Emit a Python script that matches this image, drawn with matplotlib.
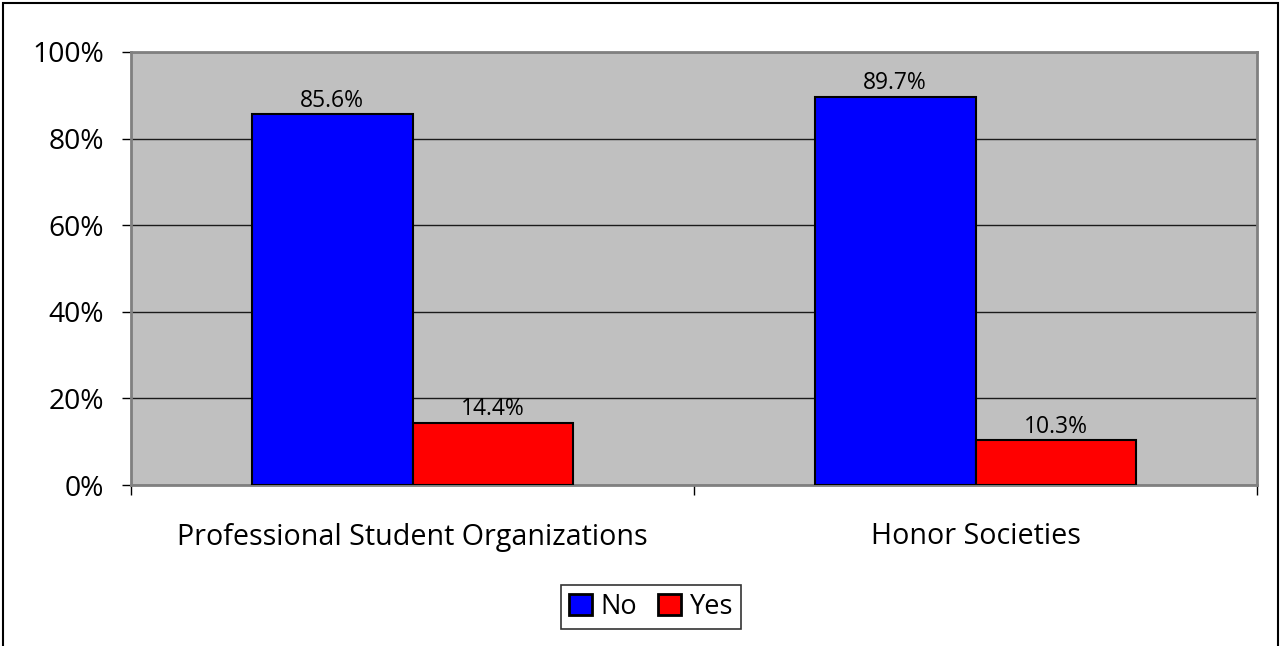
import matplotlib
matplotlib.use("Agg")
import matplotlib.pyplot as plt
from matplotlib.patches import Rectangle, Patch
import numpy as np

categories = ["Professional Student Organizations", "Honor Societies"]
series_names = ["No", "Yes"]
no_values = [85.6, 89.7]
yes_values = [14.4, 10.3]
y_ticks = [0, 20, 40, 60, 80, 100]
y_tick_labels = ["0%", "20%", "40%", "60%", "80%", "100%"]

plt.rcParams['font.family'] = ['Open Sans', 'DejaVu Sans']

fig = plt.figure(figsize=(12.8, 6.46), dpi=100)
ax = fig.add_axes([131/1280, 161/646, (1257-131)/1280, (485-52)/646])
ax.set_facecolor('#C0C0C0')

x = np.arange(len(categories))
w = 1/3.5
b1 = ax.bar(x - w/2, no_values, w, color='#0000FF', edgecolor='black', linewidth=1.5, zorder=3, label=series_names[0])
b2 = ax.bar(x + w/2, yes_values, w, color='#FF0000', edgecolor='black', linewidth=1.5, zorder=3, label=series_names[1])

for bars, vals in ((b1, no_values), (b2, yes_values)):
    for r, v in zip(bars, vals):
        ax.annotate(f"{v:.1f}%", (r.get_x() + r.get_width()/2, v), xytext=(0, 1),
                    textcoords='offset points', ha='center', va='bottom', fontsize=16.5)

ax.set_xlim(-0.5, len(categories) - 0.5)
ax.set_ylim(0, 100)
ax.set_yticks(y_ticks)
ax.set_yticklabels(y_tick_labels, fontsize=20.3)
ax.yaxis.grid(True, color='#1a1a1a', linewidth=1, zorder=1)
ax.set_axisbelow(True)

ax.set_xticks(x)
ax.set_xticklabels(categories, fontsize=20.6)
ax.tick_params(axis='x', length=0, pad=27)
ax.set_xticks([-0.5, 0.5, 1.5], minor=True)
ax.tick_params(axis='x', which='minor', length=7, width=1, color='black', direction='out')
ax.tick_params(axis='y', length=6.5, width=1, color='black', direction='out', pad=13)

for s in ['left', 'top', 'right', 'bottom']:
    ax.spines[s].set_color('#808080')
    ax.spines[s].set_linewidth(2)

handles = [Patch(facecolor='#0000FF', edgecolor='black', linewidth=2),
           Patch(facecolor='#FF0000', edgecolor='black', linewidth=2)]
leg = fig.legend(handles, series_names, loc='center', bbox_to_anchor=(651/1280, 1 - 607/646),
                 ncol=2, fontsize=19.5, frameon=True, fancybox=False, edgecolor='black',
                 handlelength=0.85, handleheight=0.85, handletextpad=0.3, columnspacing=0.8,
                 borderpad=0.3, borderaxespad=0)
leg.get_frame().set_linewidth(1.2)

fig.patches.append(Rectangle((3/1280, -0.05), (1278-3)/1280, 1 - 3/646 + 0.05,
                             transform=fig.transFigure, fill=False, edgecolor='black',
                             linewidth=1.5, clip_on=False))

fig.savefig('out.png', dpi=100)
